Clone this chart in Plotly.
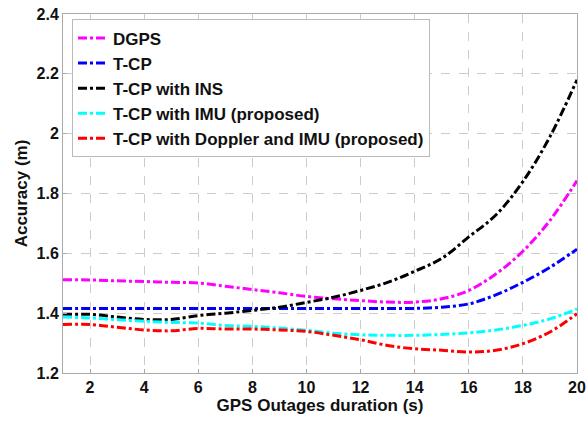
import plotly.graph_objects as go

duration = list(range(1, 21))
dgps = [1.512, 1.511, 1.508, 1.506, 1.503, 1.501, 1.490, 1.479, 1.468, 1.456,
        1.448, 1.442, 1.437, 1.437, 1.448, 1.476, 1.531, 1.607, 1.710, 1.843]
tcp = [1.416, 1.416, 1.416, 1.416, 1.416, 1.416, 1.416, 1.416, 1.416, 1.416,
       1.416, 1.416, 1.416, 1.416, 1.420, 1.431, 1.461, 1.503, 1.553, 1.614]
tcp_ins = [1.396, 1.396, 1.387, 1.379, 1.379, 1.392, 1.400, 1.409, 1.420, 1.436,
           1.453, 1.476, 1.503, 1.540, 1.583, 1.655, 1.728, 1.840, 1.990, 2.180]
tcp_imu = [1.387, 1.384, 1.378, 1.373, 1.369, 1.367, 1.359, 1.356, 1.350, 1.343,
           1.333, 1.328, 1.326, 1.326, 1.329, 1.334, 1.344, 1.359, 1.381, 1.414]
tcp_dop_imu = [1.362, 1.362, 1.353, 1.344, 1.341, 1.349, 1.347, 1.347, 1.344, 1.339,
               1.326, 1.311, 1.292, 1.281, 1.276, 1.270, 1.276, 1.298, 1.337, 1.398]

series = [
    ("DGPS", dgps, "#FF00FF"),
    ("T-CP", tcp, "#0000FF"),
    ("T-CP with INS", tcp_ins, "#000000"),
    ("T-CP with IMU (proposed)", tcp_imu, "#00FFFF"),
    ("T-CP with Doppler and IMU (proposed)", tcp_dop_imu, "#FF0000"),
]

x_ticks = [2, 4, 6, 8, 10, 12, 14, 16, 18, 20]
y_ticks = [1.2, 1.4, 1.6, 1.8, 2.0, 2.2, 2.4]
y_tick_labels = ["1.2", "1.4", "1.6", "1.8", "2", "2.2", "2.4"]

font_family = "Liberation Sans, Arial, Helvetica, sans-serif"

fig = go.Figure()
for name, vals, color in series:
    fig.add_trace(go.Scatter(
        x=duration, y=vals, name=name, mode="lines",
        line=dict(color=color, width=3, dash="dashdot", shape="spline"),
    ))

axis_common = dict(
    showline=True, linecolor="#aaaaaa", linewidth=1, mirror=True,
    showgrid=True, gridcolor="#cccccc", griddash="dash", gridwidth=1,
    ticks="inside", ticklen=4, tickcolor="#aaaaaa",
    tickfont=dict(family=font_family, size=16, color="#111111", weight="bold"),
    zeroline=False, automargin=False,
)

fig.update_layout(
    width=586, height=422,
    margin=dict(l=63, r=9, t=14, b=49),
    paper_bgcolor="white", plot_bgcolor="white",
    font=dict(family=font_family, color="#111111"),
    xaxis=dict(range=[1, 20], tickvals=x_ticks,
               title=dict(text="GPS Outages duration (s)", standoff=2,
                          font=dict(family=font_family, size=17, weight="bold")),
               **axis_common),
    yaxis=dict(range=[1.2, 2.4], tickvals=y_ticks, ticktext=y_tick_labels,
               title=dict(text="Accuracy (m)", standoff=4,
                          font=dict(family=font_family, size=17, weight="bold")),
               **axis_common),
    legend=dict(x=0.0175, y=0.985, xanchor="left", yanchor="top",
                bgcolor="white", bordercolor="#bbbbbb", borderwidth=1,
                font=dict(family=font_family, size=17, color="#111111", weight="bold"),
                itemwidth=30, tracegroupgap=0),
    showlegend=True,
)

fig.write_html("out.html", config={"displayModeBar": False},
               post_script="document.body.style.margin='0';document.body.style.overflow='hidden';")
